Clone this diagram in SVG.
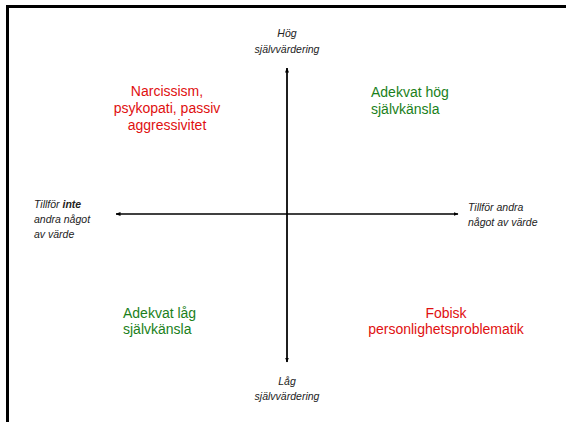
<svg xmlns="http://www.w3.org/2000/svg" width="566" height="422" viewBox="0 0 566 422">
<defs>
<style>
.ax{font-family:"Liberation Sans",Arial,sans-serif;font-style:italic;font-size:10.5px;fill:#222}
.q{font-family:"Liberation Sans",Arial,sans-serif;font-size:14px}
.red{fill:#E01010}
.grn{fill:#1A7F1A}
.axis{stroke:#000;stroke-width:1.3;fill:none}
</style>
<marker id="ah" viewBox="0 0 10 10" refX="9" refY="5" markerWidth="5" markerHeight="5" orient="auto-start-reverse" markerUnits="userSpaceOnUse">
<path d="M0,1 L10,5 L0,9 Z" fill="#000"/>
</marker>
</defs>
<rect width="566" height="422" fill="#fff"/>
<path d="M7.5,430 V6.5 H570" fill="none" stroke="#000" stroke-width="3"/>
<g id="connectors">
<line class="axis" x1="287" y1="362" x2="287" y2="68" marker-end="url(#ah)"/>
<line class="axis" x1="287" y1="68" x2="287" y2="362" marker-end="url(#ah)"/>
<line class="axis" x1="116" y1="214" x2="458" y2="214" marker-start="url(#ah)" marker-end="url(#ah)"/>
</g>
<g id="top-label" class="ax" text-anchor="middle">
<text x="287" y="37">Hög</text>
<text x="287" y="53">självvärdering</text>
</g>
<g id="bottom-label" class="ax" text-anchor="middle">
<text x="287" y="385">Låg</text>
<text x="287" y="400">självvärdering</text>
</g>
<g id="left-label" class="ax">
<text x="34" y="208">Tillför <tspan font-weight="bold">inte</tspan></text>
<text x="34" y="223">andra något</text>
<text x="34" y="238">av värde</text>
</g>
<g id="right-label" class="ax">
<text x="468" y="211">Tillför andra</text>
<text x="468" y="226">något av värde</text>
</g>
<g id="q-top-left" class="q red" text-anchor="middle">
<text x="167" y="96">Narcissism,</text>
<text x="167" y="113">psykopati, passiv</text>
<text x="167" y="130">aggressivitet</text>
</g>
<g id="q-top-right" class="q grn">
<text x="371" y="97">Adekvat hög</text>
<text x="371" y="114">självkänsla</text>
</g>
<g id="q-bottom-left" class="q grn">
<text x="123" y="318">Adekvat låg</text>
<text x="123" y="334">självkänsla</text>
</g>
<g id="q-bottom-right" class="q red" text-anchor="middle">
<text x="446" y="318">Fobisk</text>
<text x="446" y="334">personlighetsproblematik</text>
</g>
</svg>
